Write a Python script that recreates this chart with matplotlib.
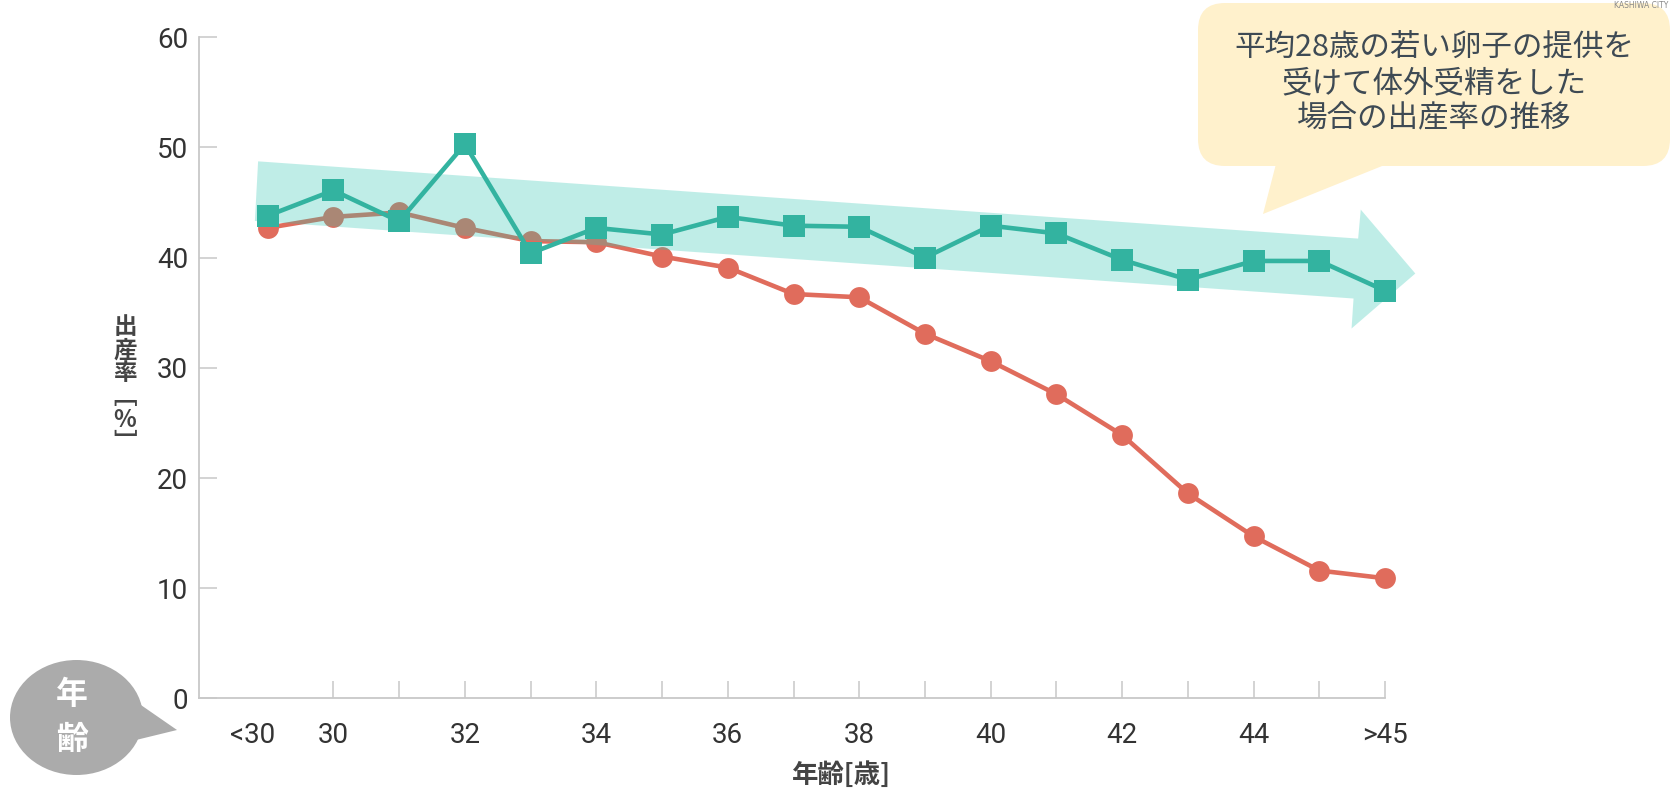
import matplotlib
matplotlib.use('Agg')
import matplotlib.pyplot as plt
from matplotlib import font_manager
from matplotlib.patches import Polygon, FancyBboxPatch, Ellipse
from matplotlib.transforms import ScaledTranslation

# 年齢区分（<30, 30〜45, >45）
age_labels = ['<30', '30', '31', '32', '33', '34', '35', '36', '37', '38',
              '39', '40', '41', '42', '43', '44', '45', '>45']
# 自分の卵子での出産率 [%]
own_egg_rate = [42.7, 43.7, 44.1, 42.7, 41.5, 41.4, 40.1, 39.1, 36.7, 36.4,
                33.1, 30.6, 27.6, 23.9, 18.6, 14.7, 11.6, 10.9]
# 提供卵子（平均28歳）での出産率 [%]
donor_egg_rate = [43.8, 46.1, 43.3, 50.3, 40.4, 42.7, 42.1, 43.7, 42.9, 42.8,
                  40.0, 42.9, 42.2, 39.8, 38.0, 39.7, 39.7, 37.0]
y_ticks = [0, 10, 20, 30, 40, 50, 60]

CJK = ['Noto Sans CJK JP', 'DejaVu Sans']
plt.rcParams['font.family'] = CJK

names = {f.name for f in font_manager.fontManager.ttflist}
num_font = 'Liberation Sans Narrow' if 'Liberation Sans Narrow' in names else 'Roboto'

RED = '#e06c5c'
GREEN = '#33b3a0'
AXIS = '#c8c8c8'
TEXT = '#333333'

fig = plt.figure(figsize=(16.72, 7.90), dpi=100)
ax = fig.add_axes([0.1193, 0.116, 0.8284 - 0.1193, 0.9528 - 0.116])

x = list(range(len(age_labels)))

# 自分の卵子：赤い丸
ax.plot(x, own_egg_rate, color=RED, lw=3.3, marker='o', ms=15,
        markeredgewidth=0, zorder=2, clip_on=False)

# 横ばい傾向を示す矢印（半透明の帯）
arrow_pts = [(-0.146, 48.74), (16.59, 41.73), (16.63, 44.36), (17.46, 38.56),
             (16.49, 33.57), (16.52, 36.29), (-0.195, 43.33)]
ax.add_patch(Polygon(arrow_pts, closed=True, facecolor='#2dc6b2', alpha=0.3,
                     edgecolor='none', zorder=3, clip_on=False))

# 提供卵子：緑の四角
ax.plot(x, donor_egg_rate, color=GREEN, lw=3.3, marker='s', ms=16,
        markeredgewidth=0, zorder=4, clip_on=False)

ax.set_xlim(-1.038, 17)
ax.set_ylim(0, 60)
for side in ['top', 'right']:
    ax.spines[side].set_visible(False)
for side in ['left', 'bottom']:
    ax.spines[side].set_color(AXIS)
    ax.spines[side].set_linewidth(1.3)

ax.set_yticks(y_ticks)
ax.set_yticklabels([str(v) for v in y_ticks], family=num_font, fontsize=20, color=TEXT)
ax.tick_params(axis='y', direction='in', length=13, width=1.1, color=AXIS, pad=8)

shown = ['<30', '30', '32', '34', '36', '38', '40', '42', '44', '>45']
ax.set_xticks(x)
ax.set_xticklabels([s if s in shown else '' for s in age_labels],
                   family=num_font, fontsize=20, color=TEXT)
ax.tick_params(axis='x', direction='in', length=12, width=1.1, color=AXIS, pad=17)
ax.xaxis.get_major_ticks()[0].tick1line.set_visible(False)
first = ax.get_xticklabels()[0]
first.set_transform(first.get_transform() + ScaledTranslation(-0.15, 0, fig.dpi_scale_trans))

# 軸ラベル
fig.text(842 / 1672, 1 - 775 / 790, '年齢[歳]', ha='center', va='center',
         fontsize=19, fontweight='bold', color='#444444')
fig.text(125 / 1672, 1 - 385 / 790, '出\n産\n率\n﹇\n%\n﹈', ha='center', va='center',
         fontsize=17, fontweight='bold', color='#444444', linespacing=0.95)

# 吹き出し用のピクセル座標レイヤー
over = fig.add_axes([0, 0, 1, 1], zorder=5)
over.set_xlim(0, 1672)
over.set_ylim(790, 0)
over.axis('off')

# 黄色の吹き出し
over.add_patch(FancyBboxPatch((1198, 3), 1670 - 1198, 163,
                              boxstyle='round,pad=0,rounding_size=27',
                              facecolor='#fff1cc', edgecolor='none'))
over.add_patch(Polygon([(1277, 160), (1397, 160), (1263, 214)], closed=True,
                       facecolor='#fff1cc', edgecolor='none'))
over.text(1434, 84, '平均28歳の若い卵子の提供を\n受けて体外受精をした\n場合の出産率の推移',
          ha='center', va='center', fontsize=22, color='#3e4a54', linespacing=1.18)
over.text(1668, 1, 'KASHIWA CITY', ha='right', va='top', fontsize=5.5,
          color='#888888', family='DejaVu Sans')

# 灰色の吹き出し（年齢）
over.add_patch(Ellipse((76.5, 717.5), 133, 115, facecolor='#ababab', edgecolor='none'))
over.add_patch(Polygon([(138, 703), (177, 730), (136, 740)], closed=True,
                       facecolor='#ababab', edgecolor='none'))
over.text(72, 695, '年', ha='center', va='center', fontsize=23,
          fontweight='bold', color='white')
over.text(72, 740, '齢', ha='center', va='center', fontsize=23,
          fontweight='bold', color='white')

fig.savefig('out.png', dpi=100)
